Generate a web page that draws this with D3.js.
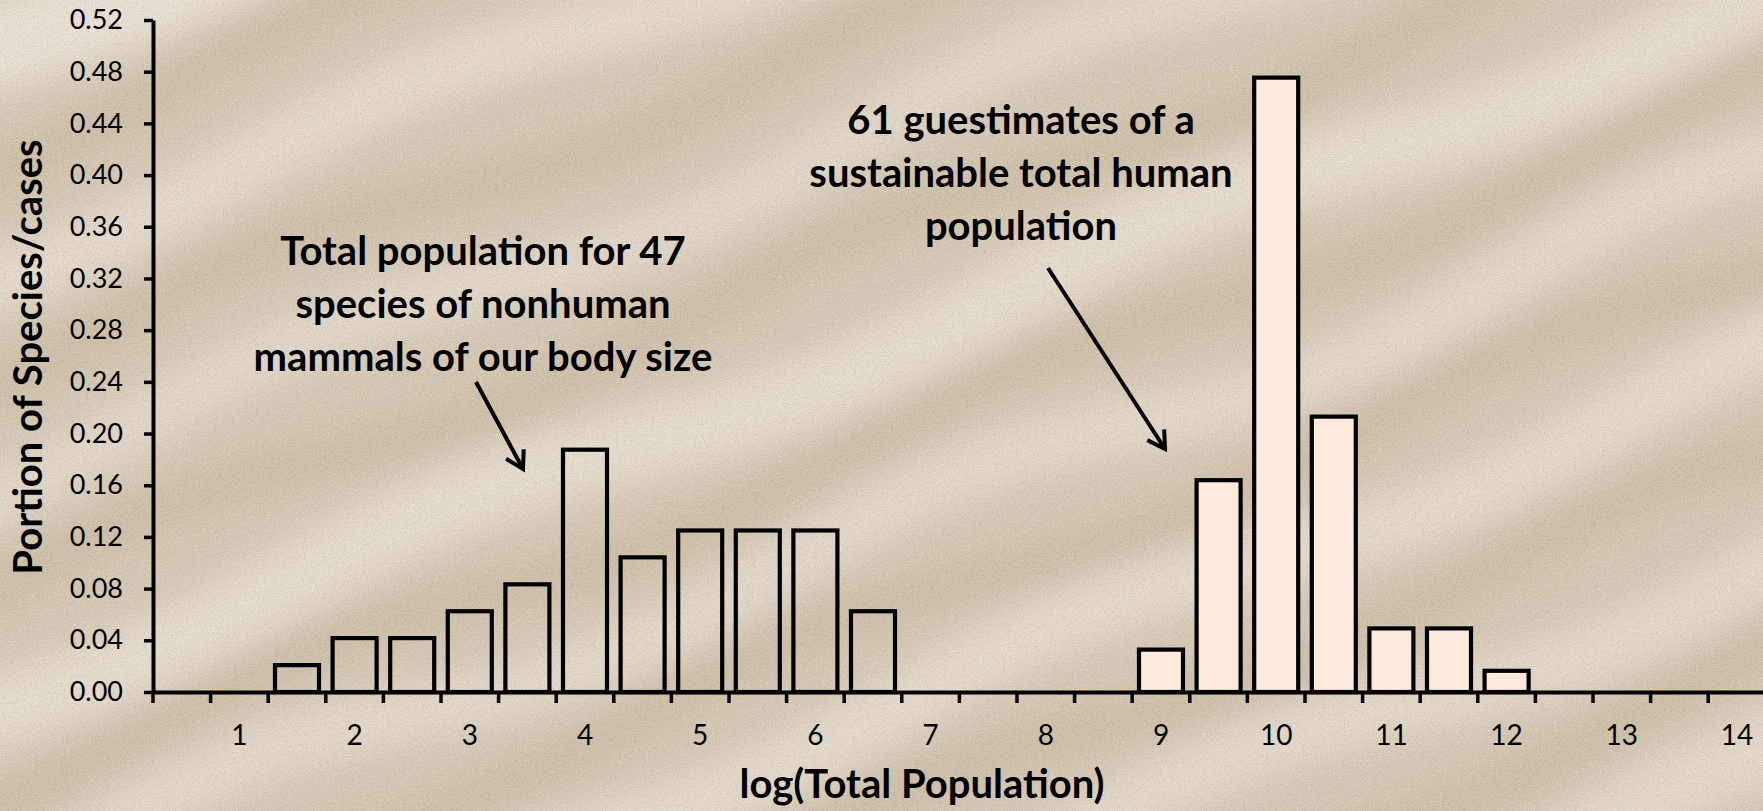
<!DOCTYPE html>
<html>
<head>
<meta charset="utf-8">
<script src="https://cdn.jsdelivr.net/npm/d3@7"></script>
<style>
  html, body { margin: 0; padding: 0; background: #d3c6b1; }
  svg { display: block; }
  text { font-family: Lato, "Open Sans", sans-serif; fill: #000; }
</style>
</head>
<body>
<svg id="chart" width="1763" height="811"></svg>
<script>
// Half-unit bins of log10(total population)
const categories = ["0.5","1","1.5","2","2.5","3","3.5","4","4.5","5","5.5","6","6.5","7",
                    "7.5","8","8.5","9","9.5","10","10.5","11","11.5","12","12.5","13","13.5","14"];

// Share of the 47 nonhuman mammal species in each bin (null = empty bin)
const mammalShare = [null,null,0.0208,0.0417,0.0417,0.0625,0.0833,0.1875,0.1042,0.125,0.125,0.125,0.0625,null,
                     null,null,null,null,null,null,null,null,null,null,null,null,null,null];

// Share of the 61 sustainable human population estimates in each bin
const humanShare = [null,null,null,null,null,null,null,null,null,null,null,null,null,null,
                    null,null,null,0.0328,0.1639,0.4754,0.2131,0.0492,0.0492,0.0164,null,null,null,null];

const xTickLabels = ["1","2","3","4","5","6","7","8","9","10","11","12","13","14"];
const yTicks = [0,0.04,0.08,0.12,0.16,0.20,0.24,0.28,0.32,0.36,0.40,0.44,0.48,0.52];

const W = 1763, H = 811;
const left = 153, baseY = 692, topY = 20, step = 57.6;
const titleSize = 40;

const svg = d3.select("#chart");
const defs = svg.append("defs");

// ---------- sandy backdrop ----------
const soft = defs.append("filter").attr("id", "soft")
  .attr("x", "-20%").attr("y", "-20%").attr("width", "140%").attr("height", "140%");
soft.append("feGaussianBlur").attr("stdDeviation", 16);

const grain = defs.append("filter").attr("id", "grain")
  .attr("x", 0).attr("y", 0).attr("width", "100%").attr("height", "100%")
  .attr("filterUnits", "userSpaceOnUse");
grain.append("feTurbulence").attr("type", "fractalNoise")
  .attr("baseFrequency", "0.9").attr("numOctaves", 2).attr("seed", 7).attr("result", "noise");
grain.append("feColorMatrix").attr("in", "noise").attr("type", "matrix")
  .attr("values", "0 0 0 0 0.50  0 0 0 0 0.40  0 0 0 0 0.28  2.6 0 0 0 -1.15");

const grainLight = defs.append("filter").attr("id", "grainLight")
  .attr("x", 0).attr("y", 0).attr("width", "100%").attr("height", "100%")
  .attr("filterUnits", "userSpaceOnUse");
grainLight.append("feTurbulence").attr("type", "fractalNoise")
  .attr("baseFrequency", "0.75").attr("numOctaves", 2).attr("seed", 19).attr("result", "noise");
grainLight.append("feColorMatrix").attr("in", "noise").attr("type", "matrix")
  .attr("values", "0 0 0 0 0.97  0 0 0 0 0.95  0 0 0 0 0.92  0 2.6 0 0 -1.15");

const bg = svg.append("g").attr("class", "backdrop");
bg.append("rect").attr("width", W).attr("height", H).attr("fill", "#d2c5b0");

// wind ripples: pale diagonal crests rising to the right
const ripple = (c, amp, phase) => {
  const pts = d3.range(-60, W + 80, 20).map(px => [px, c - 0.4 * px + amp * Math.sin(px / 115 + phase)]);
  return d3.line().curve(d3.curveBasis)(pts);
};
const crests = [
  {c: 40,   w: 90, o: 0.85, a: 14, p: 0.3},
  {c: 265,  w: 60, o: 0.65, a: 18, p: 1.1},
  {c: 480,  w: 55, o: 0.55, a: 20, p: 2.0},
  {c: 700,  w: 70, o: 0.70, a: 16, p: 0.7},
  {c: 880,  w: 55, o: 0.60, a: 22, p: 2.6},
  {c: 1065, w: 60, o: 0.65, a: 18, p: 1.6},
  {c: 1270, w: 60, o: 0.60, a: 20, p: 0.2},
  {c: 1470, w: 70, o: 0.60, a: 16, p: 1.9}
];
const troughs = crests.slice(0, -1).map((d, i) => ({
  c: (d.c + crests[i + 1].c) / 2, w: 45, o: 0.45, a: 18, p: d.p + 1.3
}));
const rip = bg.append("g").attr("filter", "url(#soft)");
rip.selectAll("path.trough").data(troughs).join("path")
  .attr("class", "trough")
  .attr("d", d => ripple(d.c, d.a, d.p))
  .attr("fill", "none").attr("stroke", "#bfae93")
  .attr("stroke-width", d => d.w).attr("stroke-opacity", d => d.o);
rip.selectAll("path.crest").data(crests).join("path")
  .attr("class", "crest")
  .attr("d", d => ripple(d.c, d.a, d.p))
  .attr("fill", "none").attr("stroke", "#ebe5dc")
  .attr("stroke-width", d => d.w).attr("stroke-opacity", d => d.o);
bg.append("rect").attr("width", W).attr("height", H).attr("filter", "url(#grain)").attr("opacity", 0.45);
bg.append("rect").attr("width", W).attr("height", H).attr("filter", "url(#grainLight)").attr("opacity", 0.35);

// ---------- scales ----------
const x = d3.scaleBand().domain(categories).range([left, left + step * categories.length]).padding(0);
const y = d3.scaleLinear().domain([0, 0.52]).range([baseY, topY]);
const barW = x.bandwidth() * 0.764;

// ---------- bars ----------
const drawBars = (values, fill, cls) => {
  const rows = categories.map((c, i) => ({c, v: values[i]})).filter(d => d.v != null);
  svg.append("g").attr("class", cls).selectAll("rect").data(rows).join("rect")
    .attr("x", d => x(d.c) + (x.bandwidth() - barW) / 2)
    .attr("y", d => y(d.v))
    .attr("width", barW)
    .attr("height", d => y(0) - y(d.v))
    .attr("fill", fill)
    .attr("stroke", "#000")
    .attr("stroke-width", 4.2);
};
drawBars(mammalShare, "none", "mammals");
drawBars(humanShare, "#fdeadc", "humans");

// ---------- axes ----------
const yAxis = svg.append("g").attr("transform", `translate(${left},0)`)
  .call(d3.axisLeft(y).tickValues(yTicks).tickFormat(d3.format(".2f"))
    .tickSize(9).tickSizeOuter(0).tickPadding(21));
yAxis.select(".domain").attr("stroke-width", 4).attr("stroke", "#000");
yAxis.selectAll(".tick line").attr("stroke-width", 3.5).attr("stroke", "#000");
yAxis.selectAll(".tick text").attr("font-family", "Lato, sans-serif").attr("font-size", 27).attr("fill", "#000");

const xAxis = svg.append("g").attr("transform", `translate(0,${baseY})`)
  .call(d3.axisBottom(x).tickValues(xTickLabels).tickSize(0).tickSizeOuter(0).tickPadding(33));
xAxis.select(".domain").attr("stroke-width", 4).attr("stroke", "#000");
xAxis.selectAll(".tick text").attr("font-family", "Lato, sans-serif").attr("font-size", 28).attr("fill", "#000");

// tick marks sit between categories
const bounds = categories.map(c => x(c)).concat([x.range()[1]]);
xAxis.selectAll("line.between").data(bounds).join("line")
  .attr("class", "between")
  .attr("x1", d => d).attr("x2", d => d)
  .attr("y1", 0).attr("y2", 11)
  .attr("stroke", "#000").attr("stroke-width", 3.5);

// ---------- titles ----------
svg.append("text")
  .attr("transform", "translate(42,357) rotate(-90)")
  .attr("text-anchor", "middle").attr("font-weight", 700).attr("font-size", titleSize)
  .text("Portion of Species/cases");

svg.append("text")
  .attr("x", 922).attr("y", 798)
  .attr("text-anchor", "middle").attr("font-weight", 700).attr("font-size", titleSize)
  .text("log(Total Population)");

// ---------- annotations ----------
const noteMammals = ["Total population for 47", "species of nonhuman", "mammals of our body size"];
const noteHumans = ["61 guestimates of a", "sustainable total human", "population"];

const note = (lines, cx, firstBaseline) => {
  svg.append("g").selectAll("text").data(lines).join("text")
    .attr("x", cx).attr("y", (d, i) => firstBaseline + i * 53)
    .attr("text-anchor", "middle").attr("font-weight", 700).attr("font-size", titleSize)
    .text(d => d);
};
note(noteMammals, 483, 265);
note(noteHumans, 1021, 134);

defs.append("marker").attr("id", "head")
  .attr("viewBox", "-22 -12 26 24").attr("refX", 0).attr("refY", 0)
  .attr("markerWidth", 26).attr("markerHeight", 24)
  .attr("markerUnits", "userSpaceOnUse").attr("orient", "auto")
  .append("path").attr("d", "M-17,-10 L0,0 L-17,10")
  .attr("fill", "none").attr("stroke", "#000").attr("stroke-width", 4)
  .attr("stroke-linejoin", "miter").attr("stroke-linecap", "butt");

const arrows = [
  {x1: 476, y1: 382, x2: 523, y2: 469},
  {x1: 1048, y1: 268, x2: 1165, y2: 449}
];
svg.append("g").selectAll("line").data(arrows).join("line")
  .attr("x1", d => d.x1).attr("y1", d => d.y1)
  .attr("x2", d => d.x2).attr("y2", d => d.y2)
  .attr("stroke", "#000").attr("stroke-width", 4)
  .attr("marker-end", "url(#head)");
</script>
</body>
</html>
